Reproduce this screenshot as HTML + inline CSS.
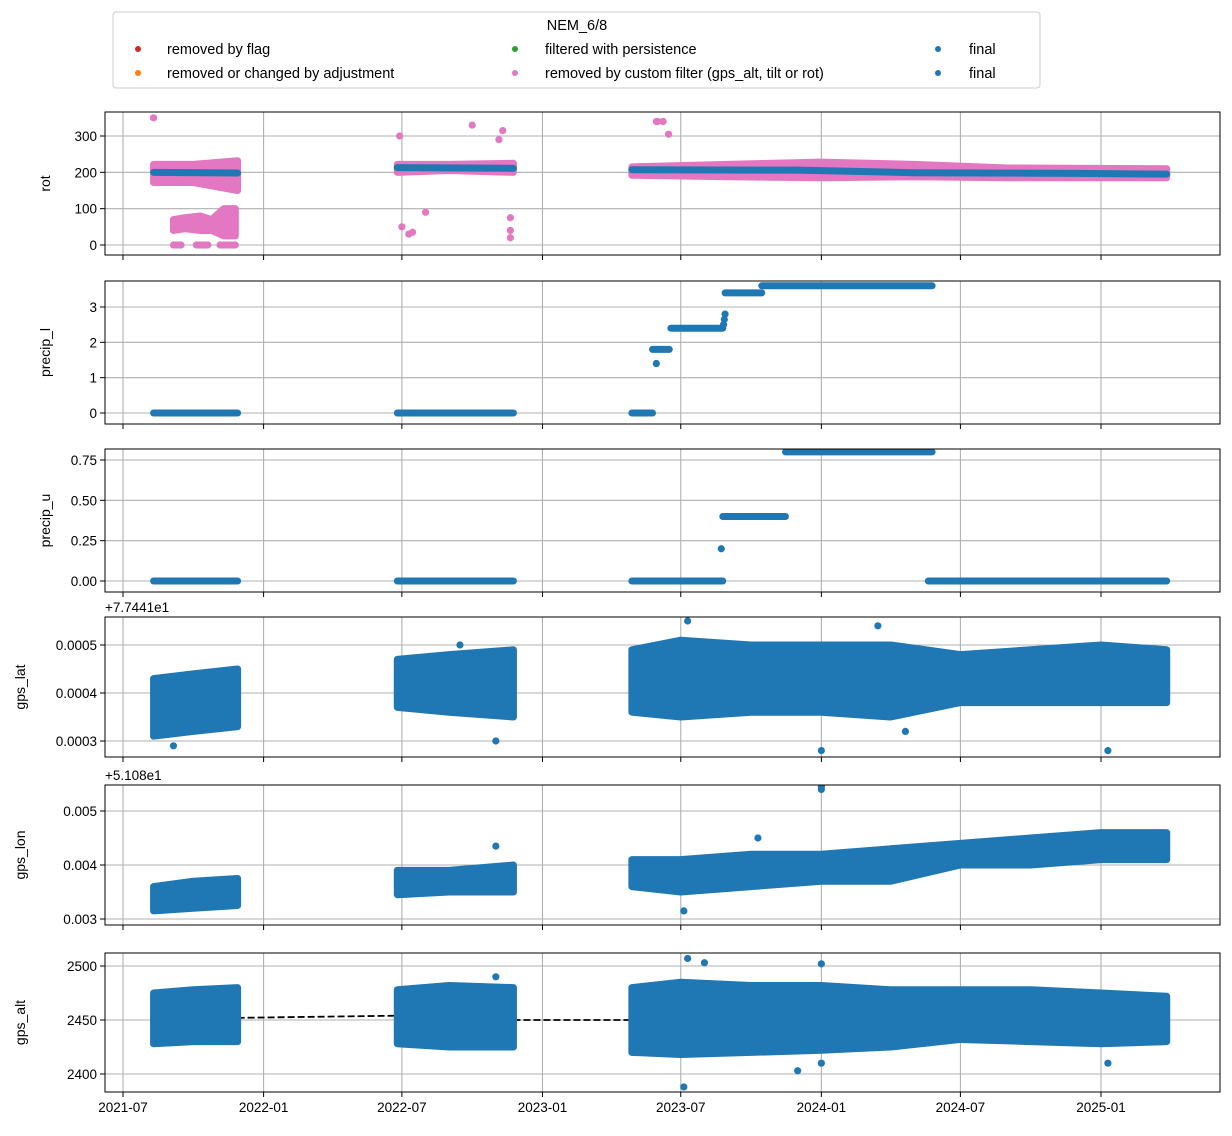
<!DOCTYPE html>
<html><head><meta charset="utf-8"><style>
body{margin:0;background:#fff}
svg{font-family:"Liberation Sans","DejaVu Sans",sans-serif}
</style></head><body>
<svg id="chart" width="1232" height="1131" xmlns="http://www.w3.org/2000/svg">
<rect width="1232" height="1131" fill="#fff"/>
<g>
<rect x="113" y="12" width="927" height="76" rx="3" fill="#fff" stroke="#ccc"/>
<text x="577" y="30" font-size="14.5" text-anchor="middle">NEM_6/8</text>
<g><circle cx="138" cy="49" r="3" fill="#d62728"/><text x="167" y="54" font-size="14.5">removed by flag</text></g>
<g><circle cx="138" cy="73" r="3" fill="#ff7f0e"/><text x="167" y="78" font-size="14.5">removed or changed by adjustment</text></g>
<g><circle cx="515" cy="49" r="3" fill="#2ca02c"/><text x="545" y="54" font-size="14.5">filtered with persistence</text></g>
<g><circle cx="515" cy="73" r="3" fill="#e377c2"/><text x="545" y="78" font-size="14.5">removed by custom filter (gps_alt, tilt or rot)</text></g>
<g><circle cx="938" cy="49" r="3" fill="#1f77b4"/><text x="969" y="54" font-size="14.5">final</text></g>
<g><circle cx="938" cy="73" r="3" fill="#1f77b4"/><text x="969" y="78" font-size="14.5">final</text></g>
</g>
<g id="plots"></g>
</svg>
<script>
// ---- data ----
const xTickLabels=['2021-07','2022-01','2022-07','2023-01','2023-07','2024-01','2024-07','2025-01'];
const segDates=[['2021-08-10','2021-11-28'],['2022-06-25','2022-11-24'],['2023-04-28','2025-03-28']];
// rot
const rotTicks=[0,100,200,300];
const rotPinkDates=['2021-08-10','2021-10-01','2021-11-28','2022-06-25','2022-09-01','2022-11-24','2023-04-28','2023-09-01','2024-01-01','2024-05-01','2024-09-01','2025-03-28'];
const rotPinkLo=[172,172,150,200,205,200,192,188,185,188,185,185];
const rotPinkHi=[222,222,232,222,222,225,215,222,228,222,212,210];
const rotFinalDates=['2021-08-10','2021-11-28','2022-06-25','2022-11-24','2023-04-28','2023-12-01','2024-05-01','2024-12-01','2025-03-28'];
const rotFinalVals=[200,198,213,211,207,206,199,197,195];
const rotLowDates=['2021-09-05','2021-09-20','2021-10-10','2021-10-25','2021-11-10','2021-11-25'];
const rotLowLo=[40,45,40,40,25,25];
const rotLowHi=[70,75,80,70,100,100];
const rotZeroDates=['2021-09-05','2021-09-15','2021-10-05','2021-10-20','2021-11-05','2021-11-25'];
const rotOutDates=['2021-08-10','2022-06-28','2022-10-01','2022-11-05','2022-11-10','2022-07-01','2022-07-10','2022-11-20','2022-11-20','2022-11-20','2023-05-30','2023-06-01','2023-06-08','2023-06-15','2022-07-15','2022-08-01'];
const rotOutVals=[350,300,330,290,315,50,30,75,40,20,340,340,340,305,35,90];
// precip_l
const plTicks=[0,1,2,3];
const plStepStart=['2021-08-10','2022-06-25','2023-04-28','2023-05-25','2023-06-18','2023-08-28','2023-10-15'];
const plStepEnd=['2021-11-28','2022-11-24','2023-05-25','2023-06-16','2023-08-25','2023-10-15','2024-05-25'];
const plStepVal=[0,0,0,1.8,2.4,3.4,3.6];
const plPointDates=['2023-05-30','2023-08-26','2023-08-27','2023-08-28'];
const plPointVals=[1.4,2.5,2.65,2.8];
// precip_u
const puTicks=[0,0.25,0.5,0.75];
const puTickLabels=['0.00','0.25','0.50','0.75'];
const puStepStart=['2021-08-10','2022-06-25','2023-04-28','2023-08-25','2023-11-15','2024-05-20'];
const puStepEnd=['2021-11-28','2022-11-24','2023-08-25','2023-11-15','2024-05-25','2025-03-28'];
const puStepVal=[0,0,0,0.4,0.8,0];
const puPointDates=['2023-08-23'];
const puPointVals=[0.2];
// gps_lat (offset 77.441)
const latTicks=[0.0003,0.0004,0.0005];
const latDates=['2021-08-10','2021-10-01','2021-11-28','2022-06-25','2022-09-01','2022-11-24','2023-04-28','2023-07-01','2023-10-01','2024-01-01','2024-04-01','2024-07-01','2024-10-01','2025-01-01','2025-03-28'];
const latLo=[0.00031,0.00032,0.00033,0.00037,0.00036,0.00035,0.00036,0.00035,0.00036,0.00036,0.00035,0.00038,0.00038,0.00038,0.00038];
const latHi=[0.00043,0.00044,0.00045,0.00047,0.00048,0.00049,0.00049,0.00051,0.00050,0.00050,0.00050,0.00048,0.00049,0.00050,0.00049];
const latOutDates=['2021-09-05','2022-11-01','2024-01-01','2025-01-10','2024-04-20','2022-09-15','2023-07-10','2024-03-15'];
const latOutVals=[0.00029,0.00030,0.00028,0.00028,0.00032,0.00050,0.00055,0.00054];
// gps_lon (offset 51.08)
const lonTicks=[0.003,0.004,0.005];
const lonDates=['2021-08-10','2021-10-01','2021-11-28','2022-06-25','2022-09-01','2022-11-24','2023-04-28','2023-07-01','2023-10-01','2024-01-01','2024-04-01','2024-07-01','2024-10-01','2025-01-01','2025-03-28'];
const lonLo=[0.00315,0.0032,0.00325,0.00345,0.0035,0.0035,0.0036,0.0035,0.0036,0.0037,0.0037,0.0040,0.0040,0.0041,0.0041];
const lonHi=[0.0036,0.0037,0.00375,0.0039,0.0039,0.0040,0.0041,0.0041,0.0042,0.0042,0.0043,0.0044,0.0045,0.0046,0.0046];
const lonOutDates=['2024-01-01','2024-01-01','2022-11-01','2023-07-05','2023-10-10'];
const lonOutVals=[0.00545,0.0054,0.00435,0.00315,0.0045];
// gps_alt
const altTicks=[2400,2450,2500];
const altDates=['2021-08-10','2021-10-01','2021-11-28','2022-06-25','2022-09-01','2022-11-24','2023-04-28','2023-07-01','2023-10-01','2024-01-01','2024-04-01','2024-07-01','2024-10-01','2025-01-01','2025-03-28'];
const altLo=[2428,2430,2430,2428,2425,2425,2420,2418,2420,2422,2425,2432,2430,2428,2430];
const altHi=[2475,2478,2480,2478,2482,2480,2480,2485,2482,2482,2478,2478,2478,2475,2472];
const altOutDates=['2023-07-10','2023-08-01','2024-01-01','2024-01-01','2023-07-05','2023-12-01','2025-01-10','2022-11-01'];
const altOutVals=[2507,2503,2502,2410,2388,2403,2410,2490];
const altGapDates=[['2021-11-28','2022-06-25'],['2022-11-24','2023-04-28']];
const altGapVals=[[2452,2454],[2450,2450]];

// ---- layout ----
const NS='http://www.w3.org/2000/svg';
const plots=document.getElementById('plots');
const X0=105,X1=1220;
const BLUE='#1f77b4',PINK='#e377c2';
const base=Date.UTC(2021,6,1);
function days(d){const p=d.split('-').map(Number);return (Date.UTC(p[0],p[1]-1,p[2]||1)-base)/864e5;}
const PXD=(1101-123)/days('2025-01-01');
function xs(d){return 123+days(d)*PXD;}
function el(tag,attrs,parent){const e=document.createElementNS(NS,tag);for(const k in attrs)e.setAttribute(k,attrs[k]);(parent||plots).appendChild(e);return e;}
function mkY(v0,p0,v1,p1){return v=>p0+(v-v0)*(p1-p0)/(v1-v0);}

const panels=[
 {name:'rot',top:112,bot:255,y:mkY(0,245,300,136),ticks:rotTicks,labels:rotTicks.map(String)},
 {name:'precip_l',top:281,bot:424,y:mkY(0,413,3,307),ticks:plTicks,labels:plTicks.map(String)},
 {name:'precip_u',top:449,bot:592,y:mkY(0,581,0.75,460),ticks:puTicks,labels:puTickLabels},
 {name:'gps_lat',top:617,bot:757,y:mkY(0.0003,741,0.0005,645),ticks:latTicks,labels:latTicks.map(v=>v.toFixed(4)),off:'+7.7441e1'},
 {name:'gps_lon',top:785,bot:925,y:mkY(0.003,919,0.005,811),ticks:lonTicks,labels:lonTicks.map(v=>v.toFixed(3)),off:'+5.108e1'},
 {name:'gps_alt',top:953,bot:1092,y:mkY(2400,1074,2500,966),ticks:altTicks,labels:altTicks.map(String)}
];

function inSeg(d){return segDates.findIndex(s=>days(d)>=days(s[0])&&days(d)<=days(s[1]));}
function band(g,dates,lo,hi,y,color){
  segDates.forEach(s=>{
    const idx=dates.map((d,i)=>i).filter(i=>days(dates[i])>=days(s[0])&&days(dates[i])<=days(s[1]));
    if(idx.length<2)return;
    let pts=idx.map(i=>[xs(dates[i]),y(hi[i])]).concat(idx.slice().reverse().map(i=>[xs(dates[i]),y(lo[i])]));
    const poly=el('polygon',{points:pts.map(p=>p.join(',')).join(' '),fill:color,stroke:color,'stroke-width':7,'stroke-linejoin':'round'},g);
    
    
  });
}
function dot(g,x,yv,color,name){const c=el('circle',{cx:x,cy:yv,r:3.6,fill:color},g);
  
  }
function steps(g,s,e,v,y){for(let i=0;i<s.length;i++){const l=el('line',{x1:xs(s[i]),x2:xs(e[i]),y1:y(v[i]),y2:y(v[i]),stroke:BLUE,'stroke-width':7,'stroke-linecap':'round'},g);
  
  }}

panels.forEach((p,pi)=>{
  const g=el('g',{});
  
  
  const cp=el('clipPath',{id:'c'+pi},g);el('rect',{x:X0,y:p.top,width:X1-X0,height:p.bot-p.top},cp);
  xTickLabels.forEach(t=>{const x=xs(t);el('line',{x1:x,x2:x,y1:p.top,y2:p.bot,stroke:'#b0b0b0','stroke-width':1.1},g);
    el('line',{x1:x,x2:x,y1:p.bot,y2:p.bot+5,stroke:'#000'},g);
    if(pi===5){const t2=el('text',{x:x,y:p.bot+20,'font-size':13.5,'text-anchor':'middle'},g);t2.textContent=t;
      
      }});
  p.ticks.forEach((v,i)=>{const yy=p.y(v);el('line',{x1:X0,x2:X1,y1:yy,y2:yy,stroke:'#b0b0b0','stroke-width':1.1},g);
    el('line',{x1:X0-5,x2:X0,y1:yy,y2:yy,stroke:'#000'},g);
    const t=el('text',{x:X0-8,y:yy+5,'font-size':13.5,'text-anchor':'end'},g);t.textContent=p.labels[i];
    
    });
  const yl=el('text',{x:pi>=3?25:50,y:(p.top+p.bot)/2,'font-size':14,'text-anchor':'middle',transform:`rotate(-90 ${pi>=3?25:50} ${(p.top+p.bot)/2})`},g);
  yl.textContent=p.name;
  
  
  if(p.off){const o=el('text',{x:X0,y:p.top-5,'font-size':13.5},g);o.textContent=p.off;
    
    }
  const d=el('g',{'clip-path':`url(#c${pi})`},g);
  if(p.name==='rot'){
    band(d,rotPinkDates,rotPinkLo,rotPinkHi,p.y,PINK);
    band(d,rotLowDates,rotLowLo,rotLowHi,p.y,PINK);
    rotZeroDates.forEach(dd=>dot(d,xs(dd),p.y(0),PINK,'custom-filter-point'));
    for(let i=0;i+1<rotZeroDates.length;i+=2)el('line',{x1:xs(rotZeroDates[i]),x2:xs(rotZeroDates[i+1]),y1:p.y(0),y2:p.y(0),stroke:PINK,'stroke-width':7},d);
    rotOutDates.forEach((dd,i)=>dot(d,xs(dd),p.y(rotOutVals[i]),PINK,'custom-filter-point'));
    for(let i=0;i+1<rotFinalDates.length;i++){if(inSeg(rotFinalDates[i])!==inSeg(rotFinalDates[i+1]))continue;
      const l=el('line',{x1:xs(rotFinalDates[i]),x2:xs(rotFinalDates[i+1]),y1:p.y(rotFinalVals[i]),y2:p.y(rotFinalVals[i+1]),stroke:BLUE,'stroke-width':7,'stroke-linecap':'round'},d);
      
      }
  } else if(p.name==='precip_l'){
    steps(d,plStepStart,plStepEnd,plStepVal,p.y);
    plPointDates.forEach((dd,i)=>dot(d,xs(dd),p.y(plPointVals[i]),BLUE,'final-point'));
  } else if(p.name==='precip_u'){
    steps(d,puStepStart,puStepEnd,puStepVal,p.y);
    puPointDates.forEach((dd,i)=>dot(d,xs(dd),p.y(puPointVals[i]),BLUE,'final-point'));
  } else if(p.name==='gps_lat'){
    band(d,latDates,latLo,latHi,p.y,BLUE);
    latOutDates.forEach((dd,i)=>dot(d,xs(dd),p.y(latOutVals[i]),BLUE,'final-point'));
  } else if(p.name==='gps_lon'){
    band(d,lonDates,lonLo,lonHi,p.y,BLUE);
    lonOutDates.forEach((dd,i)=>dot(d,xs(dd),p.y(lonOutVals[i]),BLUE,'final-point'));
  } else {
    altGapDates.forEach((gd,i)=>{const l=el('line',{x1:xs(gd[0]),x2:xs(gd[1]),y1:p.y(altGapVals[i][0]),y2:p.y(altGapVals[i][1]),stroke:'#000','stroke-width':1.8,'stroke-dasharray':'7,3'},d);
      
      });
    band(d,altDates,altLo,altHi,p.y,BLUE);
    altOutDates.forEach((dd,i)=>dot(d,xs(dd),p.y(altOutVals[i]),BLUE,'final-point'));
  }
  el('rect',{x:X0,y:p.top,width:X1-X0,height:p.bot-p.top,fill:'none',stroke:'#000','stroke-width':1},g);
});
</script>
</body></html>
